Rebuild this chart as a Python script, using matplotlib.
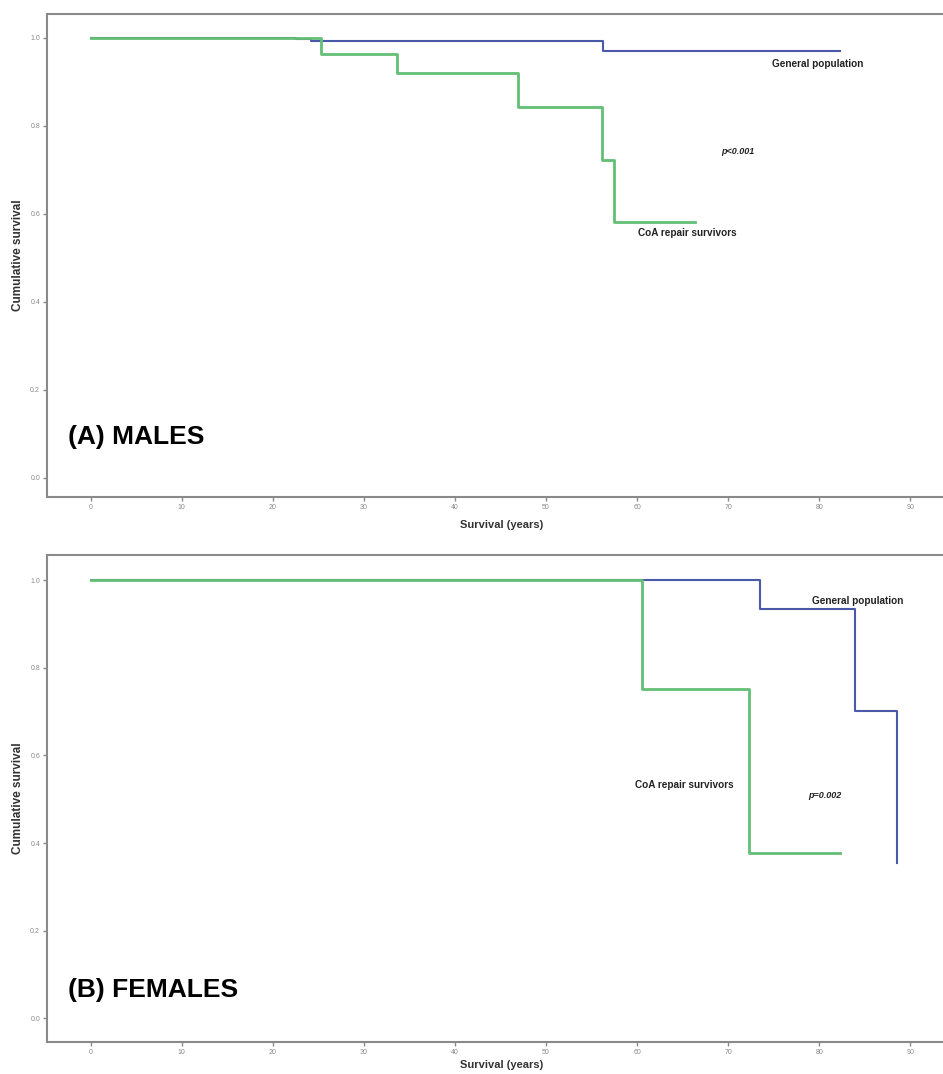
import numpy as np
import matplotlib
matplotlib.use('Agg')
import matplotlib.pyplot as plt

plt.rcParams['font.family'] = ['Liberation Sans', 'DejaVu Sans']

# Kaplan-Meier step data (time in years, survival)
male_gen_t = [0, 22.5, 24.2, 56.3, 82.3]
male_gen_s = [1.0, 0.998, 0.993, 0.970, 0.970]
male_coa_t = [0, 25.3, 33.6, 46.9, 56.2, 57.5, 66.4]
male_coa_s = [1.0, 0.964, 0.919, 0.842, 0.722, 0.582, 0.582]

fem_gen_t = [0, 73.5, 83.9, 88.6]
fem_gen_s = [1.0, 0.933, 0.701, 0.354]
fem_coa_t = [0, 60.6, 72.3, 82.3]
fem_coa_s = [1.0, 0.751, 0.377, 0.377]

xticks = [0, 10, 20, 30, 40, 50, 60, 70, 80, 90]
yticks = [0.0, 0.2, 0.4, 0.6, 0.8, 1.0]

green = '#62bf74'
blue = '#4a5aa8'
grey = '#8a8a8a'

fig = plt.figure(figsize=(9.43, 10.74), dpi=100)
ax1 = fig.add_axes([0.0498, 0.5372, 0.9502, 0.4502])
ax2 = fig.add_axes([0.0498, 0.0298, 0.9502, 0.4534])


def style(ax, ylim, xlab_y):
    ax.set_xlim(-4.8, 93.6)
    ax.set_ylim(*ylim)
    ax.set_xticks(xticks)
    ax.set_yticks(yticks)
    ax.set_yticklabels(['%.1f' % v for v in yticks])
    ax.tick_params(labelsize=5, colors=grey, length=3, width=1, pad=2)
    ax.spines['right'].set_visible(False)
    for s in ['left', 'bottom', 'top']:
        ax.spines[s].set_color(grey)
        ax.spines[s].set_linewidth(1.5)
    ax.set_xlabel('Survival (years)', fontsize=8, color='#333333',
                  fontweight='bold')
    ax.xaxis.set_label_coords(0.507, xlab_y)
    ax.set_ylabel('Cumulative survival', fontsize=8.5, color='#333333',
                  fontweight='bold')
    ax.yaxis.set_label_coords(-0.026, 0.5)


# (A) males
ax1.step(male_gen_t, male_gen_s, where='post', color=blue, lw=1.5)
ax1.step(male_coa_t, male_coa_s, where='post', color=green, lw=2)
style(ax1, (-0.044, 1.055), -0.048)
ax1.text(79.8, 0.941, 'General population', fontsize=7.2, color='#222222',
         ha='center', va='center', fontweight='bold')
ax1.text(71.1, 0.742, 'p<0.001', fontsize=6.5, style='italic', color='#222222',
         ha='center', va='center', fontweight='bold')
ax1.text(65.5, 0.557, 'CoA repair survivors', fontsize=7.2, color='#222222',
         ha='center', va='center', fontweight='bold')
ax1.text(-2.5, 0.093, '(A) MALES', fontsize=19, fontweight='bold',
         ha='left', va='center')

# (B) females
ax2.step(fem_gen_t, fem_gen_s, where='post', color=blue, lw=1.5)
ax2.step(fem_coa_t, fem_coa_s, where='post', color=green, lw=2)
style(ax2, (-0.054, 1.057), -0.036)
ax2.text(84.2, 0.953, 'General population', fontsize=7.2, color='#222222',
         ha='center', va='center', fontweight='bold')
ax2.text(65.2, 0.533, 'CoA repair survivors', fontsize=7.2, color='#222222',
         ha='center', va='center', fontweight='bold')
ax2.text(80.6, 0.508, 'p=0.002', fontsize=6.5, style='italic', color='#222222',
         ha='center', va='center', fontweight='bold')
ax2.text(-2.5, 0.065, '(B) FEMALES', fontsize=19, fontweight='bold',
         ha='left', va='center')

fig.savefig('out.png', dpi=100)
